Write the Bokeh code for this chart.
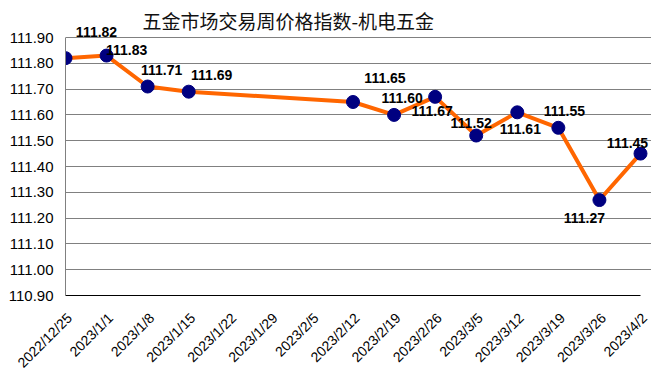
from bokeh.plotting import figure
from bokeh.models import (ColumnDataSource, FixedTicker, Range1d, NumeralTickFormatter,
                          Label, CustomJSTickFormatter)
from bokeh.core.properties import value
from bokeh.embed import file_html
from bokeh.resources import INLINE
import math

title_text = "五金市场交易周价格指数-机电五金"
tick_labels = ["2022/12/25", "2023/1/1", "2023/1/8", "2023/1/15", "2023/1/22",
               "2023/1/29", "2023/2/5", "2023/2/12", "2023/2/19", "2023/2/26",
               "2023/3/5", "2023/3/12", "2023/3/19", "2023/3/26", "2023/4/2"]
obs_dates = ["2022/12/25", "2023/1/1", "2023/1/8", "2023/1/15", "2023/2/12",
             "2023/2/19", "2023/2/26", "2023/3/5", "2023/3/12", "2023/3/19",
             "2023/3/26", "2023/4/2"]
values = [111.82, 111.83, 111.71, 111.69, 111.65, 111.60, 111.67, 111.52,
          111.61, 111.55, 111.27, 111.45]
y_ticks = [110.90, 111.00, 111.10, 111.20, 111.30, 111.40, 111.50, 111.60,
           111.70, 111.80, 111.90]

# label placement (pixel offsets relative to each point; positive dy = down)
label_dx = [31, 20, 14, 23, 32, 8, -3, -5, 3, 6, -15, -13]
label_dy = [-26, -6, -17, -17, -24, -17, 14, -13, 17, -17, 18, -11]

# layout (pixels)
W, H = 651, 388
LEFT, TOP_PLOT, RIGHT_PLOT, BOTTOM_PLOT = 65, 37, 640, 295

n = len(tick_labels) - 1
px_per_x = (RIGHT_PLOT - LEFT) / n
px_per_y = (BOTTOM_PLOT - TOP_PLOT) / (y_ticks[-1] - y_ticks[0])
x_end = (W - LEFT) / px_per_x
y_end = y_ticks[0] + BOTTOM_PLOT / px_per_y

xs = [tick_labels.index(d) for d in obs_dates]
src = ColumnDataSource(dict(
    x=xs, y=values, lab=["%.2f" % v for v in values],
    dx=label_dx, dy=label_dy,
))

p = figure(width=W, height=H, output_backend="svg", toolbar_location=None,
           x_range=Range1d(0, x_end), y_range=Range1d(y_ticks[0], y_end),
           min_border_left=LEFT, min_border_right=0, min_border_top=0,
           min_border_bottom=H - BOTTOM_PLOT)
p.outline_line_color = None
p.background_fill_color = "white"
p.border_fill_color = "white"

p.line("x", "y", source=src, line_color="#FF6600", line_width=4)
p.scatter("x", "y", source=src, size=13, fill_color="#000080",
          line_color="#000080")
p.text("x", "y", text="lab", source=src, x_offset="dx", y_offset="dy",
       text_font=value("Liberation Sans"), text_font_style="bold",
       text_font_size="14px", text_color="black",
       text_align="center", text_baseline="middle")

title = Label(x=0, y=y_ticks[-1], x_offset=77, y_offset=17.5,
              text=title_text, text_font="Noto Sans CJK SC",
              text_font_size="19px", text_color="#111111",
              text_align="left", text_baseline="middle")
p.add_layout(title)

p.xgrid.visible = False
p.ygrid.grid_line_color = "#808080"
p.ygrid.grid_line_width = 1
p.ygrid.bounds = (0, n)

shift = 4 / px_per_x
xa = p.xaxis[0]
xa.ticker = FixedTicker(ticks=[i + shift for i in range(len(tick_labels))])
xa.formatter = CustomJSTickFormatter(args=dict(labels=tick_labels),
                                     code="return labels[Math.round(tick)] || '';")
xa.bounds = (0, n)
xa.major_label_orientation = math.pi / 4
xa.major_label_text_font = "Liberation Sans"
xa.major_label_text_font_size = "14px"
xa.major_label_text_color = "black"
xa.major_label_standoff = 20
xa.major_tick_out = 0
xa.major_tick_in = 0
xa.minor_tick_out = 0
xa.minor_tick_in = 0
xa.axis_line_color = "black"
xa.axis_line_width = 1

ya = p.yaxis[0]
ya.ticker = FixedTicker(ticks=y_ticks)
ya.formatter = NumeralTickFormatter(format="0.00")
ya.bounds = (y_ticks[0], y_ticks[-1])
ya.major_label_text_font = "Liberation Sans"
ya.major_label_text_font_size = "15px"
ya.major_label_text_color = "black"
ya.major_label_standoff = 12
ya.major_tick_out = 0
ya.major_tick_in = 0
ya.minor_tick_out = 0
ya.minor_tick_in = 0
ya.axis_line_color = "#808080"

open("out.html", "w").write(file_html(p, INLINE))
